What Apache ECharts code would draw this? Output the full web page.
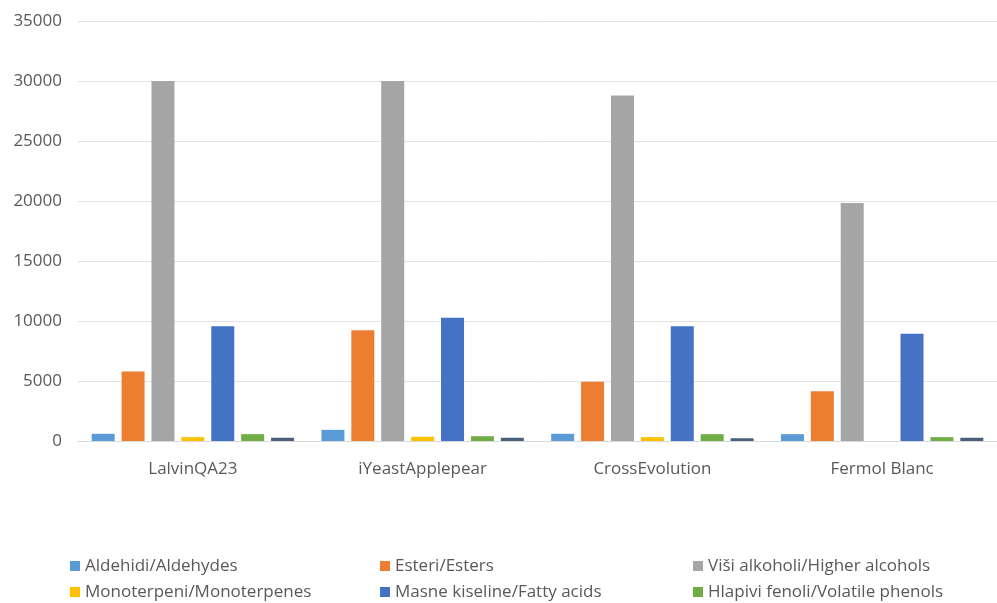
<!DOCTYPE html>
<html>
<head>
<meta charset="utf-8">
<script src="https://cdn.jsdelivr.net/npm/echarts@6/dist/echarts.min.js"></script>
<style>html,body{margin:0;padding:0;background:#fff;}#c{width:997px;height:603px;}</style>
</head>
<body>
<div id="c"></div>
<script>
var categories = ['LalvinQA23', 'iYeastApplepear', 'CrossEvolution', 'Fermol Blanc'];
var seriesNames = ['Aldehidi/Aldehydes', 'Esteri/Esters', 'Viši alkoholi/Higher alcohols',
  'Monoterpeni/Monoterpenes', 'Masne kiseline/Fatty acids', 'Hlapivi fenoli/Volatile phenols', 'Ostalo/Other'];
var aldehydes = [600, 930, 600, 570];
var esters = [5800, 9230, 4930, 4150];
var higherAlcohols = [30000, 30000, 28800, 19830];
var monoterpenes = [320, 350, 320, 0];
var fattyAcids = [9570, 10270, 9570, 8930];
var volatilePhenols = [570, 400, 570, 320];
var other = [270, 270, 230, 270];
var yTicks = [0, 5000, 10000, 15000, 20000, 25000, 30000, 35000];

var colors = ['#5B9BD5', '#ED7D31', '#A5A5A5', '#FFC000', '#4472C4', '#70AD47', '#4a5f7a'];
var values = [aldehydes, esters, higherAlcohols, monoterpenes, fattyAcids, volatilePhenols, other];

var chart = echarts.init(document.getElementById('c'));
var series = seriesNames.map(function (n, i) {
  return {
    name: n, type: 'bar', data: values[i], barWidth: 23, barGap: '30%',
    itemStyle: { color: colors[i] }
  };
});
function leg(names, left) {
  return {
    data: names.map(function (n) { return { name: n, icon: 'rect' }; }),
    left: left, top: 556, orient: 'vertical',
    itemWidth: 10, itemHeight: 10, itemGap: 6, padding: 0,
    textStyle: { color: '#595959', fontSize: 17, lineHeight: 20 }
  };
}
chart.setOption({
  animation: false,
  textStyle: { fontFamily: 'Open Sans, sans-serif' },
  color: colors,
  grid: { left: 78, right: -9, top: 21, bottom: 162, containLabel: false },
  legend: [
    leg([seriesNames[0], seriesNames[3]], 70),
    leg([seriesNames[1], seriesNames[4]], 380),
    leg([seriesNames[2], seriesNames[5]], 693)
  ],
  xAxis: {
    type: 'category', data: categories,
    axisLine: { lineStyle: { color: '#d9d9d9' } },
    axisTick: { show: false },
    axisLabel: { color: '#595959', fontSize: 17, margin: 20 }
  },
  yAxis: {
    type: 'value', min: 0, max: 35000, interval: 5000,
    axisLine: { show: false }, axisTick: { show: false },
    splitLine: { lineStyle: { color: '#e3e3e3' } },
    axisLabel: {
      color: '#595959', fontSize: 17, margin: 16,
      formatter: function (v) { return yTicks.indexOf(v) >= 0 ? String(v) : ''; }
    }
  },
  series: series
});
</script>
</body>
</html>
